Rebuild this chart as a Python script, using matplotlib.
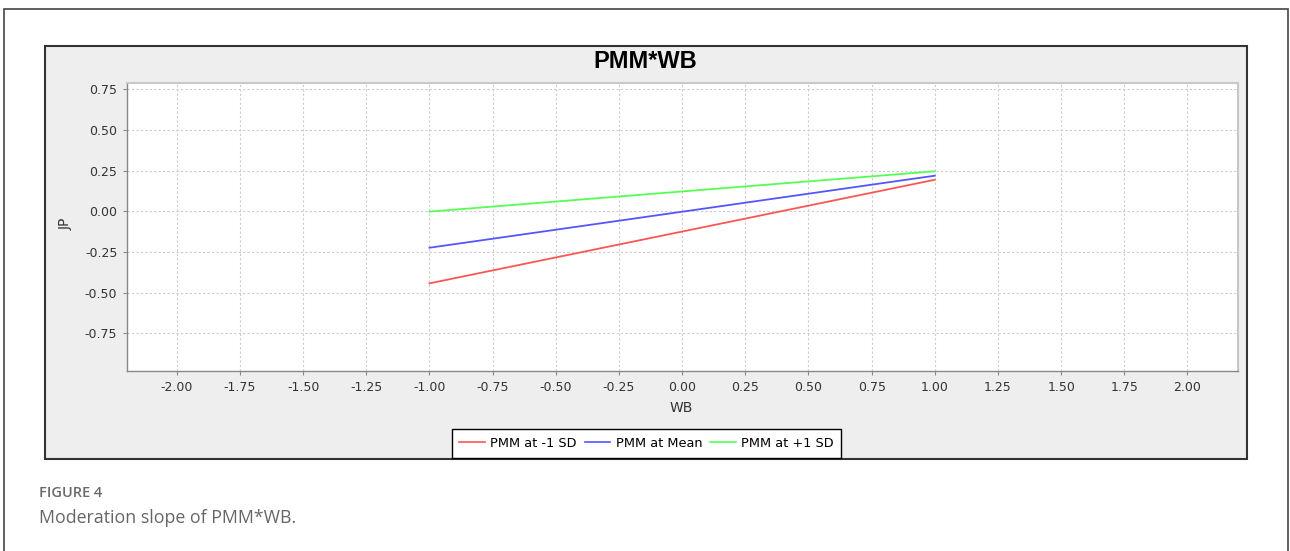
import matplotlib
matplotlib.use("Agg")
import matplotlib.pyplot as plt
from matplotlib.patches import Rectangle
from matplotlib.lines import Line2D

# Data
wb_levels = [-1.0, 1.0]
series_names = ["PMM at -1 SD", "PMM at Mean", "PMM at +1 SD"]
jp_low = [-0.443, 0.194]
jp_mean = [-0.224, 0.219]
jp_high = [-0.002, 0.246]
series_values = [jp_low, jp_mean, jp_high]
series_colors = ["#FF5555", "#5555FF", "#55FF55"]
x_ticks = [-2.0, -1.75, -1.5, -1.25, -1.0, -0.75, -0.5, -0.25, 0.0, 0.25, 0.5, 0.75, 1.0, 1.25, 1.5, 1.75, 2.0]
y_ticks = [-0.75, -0.5, -0.25, 0.0, 0.25, 0.5, 0.75]

W, H = 1290, 551
fig = plt.figure(figsize=(W / 100, H / 100), dpi=100)
fig.patch.set_facecolor("white")

def px(x, y):
    return x / W, 1 - y / H

# outer frame
fig.patches.append(Rectangle(px(4, 600), (1288 - 4) / W, (600 - 9) / H,
                             transform=fig.transFigure, facecolor="white",
                             edgecolor="#444444", lw=1.2, zorder=0))
# chart panel
fig.patches.append(Rectangle(px(45, 459), (1247 - 45) / W, (459 - 46) / H,
                             transform=fig.transFigure, facecolor="#EEEEEE",
                             edgecolor="#333333", lw=1.5, zorder=1))

ax = fig.add_axes([127 / W, 1 - 371 / H, (1238 - 127) / W, (371 - 83) / H])
ax.set_facecolor("white")
ax.set_zorder(2)

for name, vals, col in zip(series_names, series_values, series_colors):
    ax.plot(wb_levels, vals, color=col, lw=1.3, label=name, zorder=3)

ax.set_xlim(-2.197, 2.2)
ax.set_ylim(-0.982, 0.789)
ax.set_xticks(x_ticks)
ax.set_xticklabels([f"{v:.2f}" for v in x_ticks])
ax.set_yticks(y_ticks)
ax.set_yticklabels([f"{v:.2f}" for v in y_ticks])
ax.grid(True, color="#CCCCCC", ls=(0, (2, 2)), lw=0.8)
ax.tick_params(direction="out", length=3, width=0.8, color="#888888",
               labelsize=9, labelcolor="#333333", pad=4)
for t in ax.get_xticklabels() + ax.get_yticklabels():
    t.set_fontfamily("DejaVu Sans")
for s in ["left", "bottom"]:
    ax.spines[s].set_color("#888888")
    ax.spines[s].set_linewidth(1.0)
for s in ["top", "right"]:
    ax.spines[s].set_color("#C8C8C8")
    ax.spines[s].set_linewidth(1.5)

fig.text(645 / W, 1 - 62 / H, "PMM*WB", ha="center", va="center",
         fontsize=17, fontweight="bold", family="Liberation Sans", color="black")
fig.text(681 / W, 1 - 408 / H, "WB", ha="center", va="center",
         fontsize=10, family="DejaVu Sans", color="#333333")
fig.text(66 / W, 1 - 224 / H, "JP", ha="center", va="center", rotation=90,
         fontsize=10, family="DejaVu Sans", color="#333333")

handles = [Line2D([0], [0], color=c, lw=1.2) for c in series_colors]
leg = fig.legend(handles, series_names, loc="center",
                 bbox_to_anchor=(646.5 / W, 1 - 443.5 / H), bbox_transform=fig.transFigure,
                 ncol=3, frameon=True, fancybox=False, edgecolor="black",
                 facecolor="white", framealpha=1, prop={"family": "DejaVu Sans", "size": 9.3},
                 handlelength=2.0, handletextpad=0.4, columnspacing=0.6,
                 borderpad=0.6, borderaxespad=0)
leg.get_frame().set_linewidth(1.0)
leg.set_zorder(5)

fig.text(39 / W, 1 - 493 / H, "FIGURE 4", ha="left", va="center",
         fontsize=10.5, family="Open Sans", fontweight="semibold", color="#6a6a6a")
fig.text(39 / W, 1 - 518 / H, "Moderation slope of PMM*WB.", ha="left", va="center",
         fontsize=12.8, family="Open Sans", color="#666666")

fig.savefig("out.png", dpi=100)
